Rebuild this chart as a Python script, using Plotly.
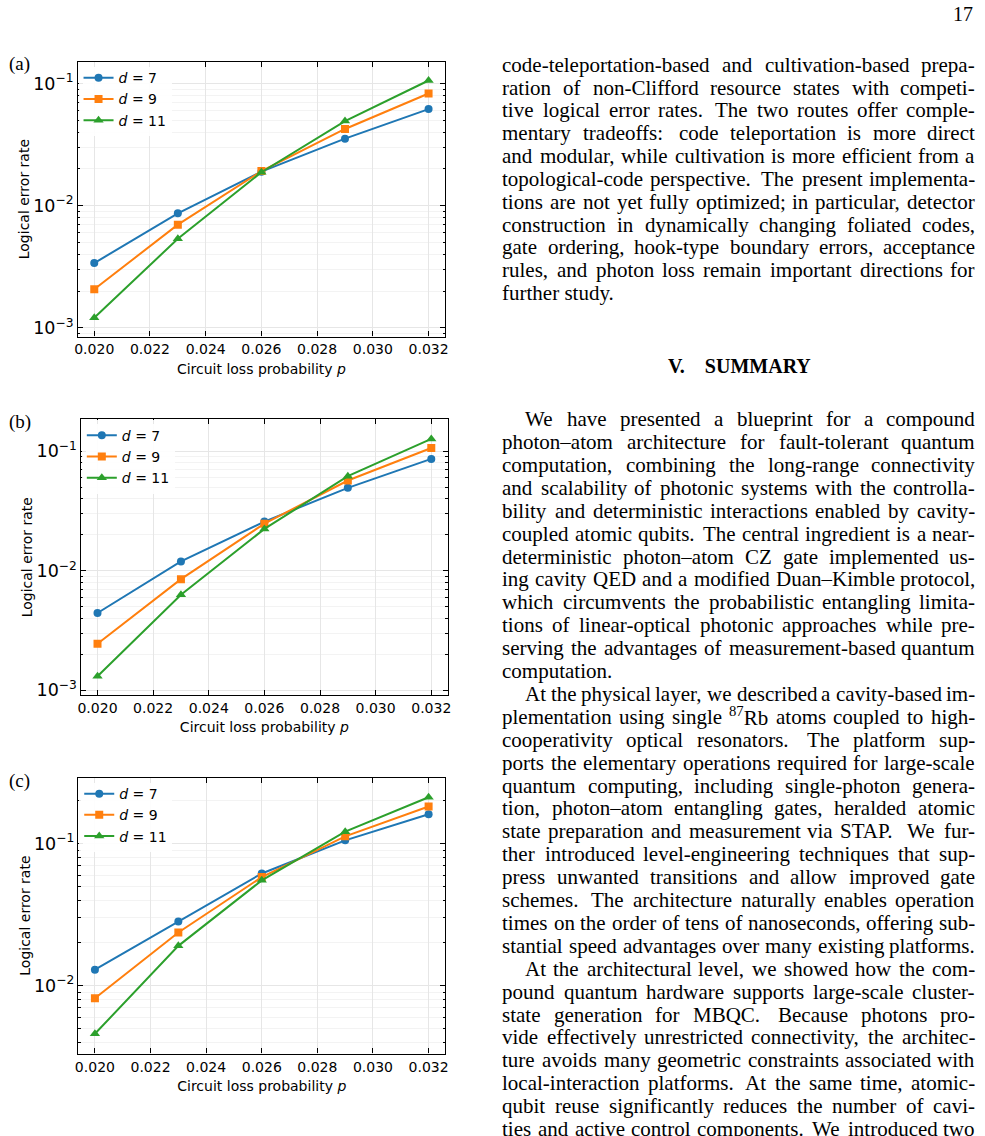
import re
import plotly.graph_objects as go

# ---------------- data ----------------
p = [0.020, 0.023, 0.026, 0.029, 0.032]
x_ticks = [0.020, 0.022, 0.024, 0.026, 0.028, 0.030, 0.032]
x_tick_labels = ["0.020", "0.022", "0.024", "0.026", "0.028", "0.030", "0.032"]
series_names = ["<i>d</i> = 7", "<i>d</i> = 9", "<i>d</i> = 11"]

a_d7 = [3.39e-3, 8.67e-3, 1.90e-2, 3.54e-2, 6.18e-2]
a_d9 = [2.07e-3, 7.00e-3, 1.92e-2, 4.25e-2, 8.29e-2]
a_d11 = [1.21e-3, 5.36e-3, 1.88e-2, 4.93e-2, 1.06e-1]

b_d7 = [4.43e-3, 1.196e-2, 2.58e-2, 4.94e-2, 8.63e-2]
b_d9 = [2.45e-3, 8.50e-3, 2.48e-2, 5.69e-2, 1.066e-1]
b_d11 = [1.31e-3, 6.30e-3, 2.24e-2, 6.19e-2, 1.27e-1]

c_d7 = [1.294e-2, 2.825e-2, 6.16e-2, 1.054e-1, 1.61e-1]
c_d9 = [8.15e-3, 2.366e-2, 5.81e-2, 1.125e-1, 1.825e-1]
c_d11 = [4.58e-3, 1.905e-2, 5.51e-2, 1.213e-1, 2.12e-1]

panel_labels = ["(a)", "(b)", "(c)"]

# ---------------- page text ----------------
para_top = [
    "code-teleportation-based and cultivation-based prepa-",
    "ration of non-Clifford resource states with competi-",
    "tive logical error rates. The two routes offer comple-",
    "mentary tradeoffs: code teleportation is more direct",
    "and modular, while cultivation is more efficient from a",
    "topological-code perspective. The present implementa-",
    "tions are not yet fully optimized; in particular, detector",
    "construction in dynamically changing foliated codes,",
    "gate ordering, hook-type boundary errors, acceptance",
    "rules, and photon loss remain important directions for",
    "further study.",
]
para_top_last = {10}

section_title = "<b>V.\u2003SUMMARY</b>"
page_number = "17"

summary_lines = [
    "We have presented a blueprint for a compound",
    "photon–atom architecture for fault-tolerant quantum",
    "computation, combining the long-range connectivity",
    "and scalability of photonic systems with the controlla-",
    "bility and deterministic interactions enabled by cavity-",
    "coupled atomic qubits. The central ingredient is a near-",
    "deterministic photon–atom CZ gate implemented us-",
    "ing cavity QED and a modified Duan–Kimble protocol,",
    "which circumvents the probabilistic entangling limita-",
    "tions of linear-optical photonic approaches while pre-",
    "serving the advantages of measurement-based quantum",
    "computation.",
    "At the physical layer, we described a cavity-based im-",
    "plementation using single <sup>87</sup>Rb atoms coupled to high-",
    "cooperativity optical resonators. The platform sup-",
    "ports the elementary operations required for large-scale",
    "quantum computing, including single-photon genera-",
    "tion, photon–atom entangling gates, heralded atomic",
    "state preparation and measurement via STAP. We fur-",
    "ther introduced level-engineering techniques that sup-",
    "press unwanted transitions and allow improved gate",
    "schemes. The architecture naturally enables operation",
    "times on the order of tens of nanoseconds, offering sub-",
    "stantial speed advantages over many existing platforms.",
    "At the architectural level, we showed how the com-",
    "pound quantum hardware supports large-scale cluster-",
    "state generation for MBQC. Because photons pro-",
    "vide effectively unrestricted connectivity, the architec-",
    "ture avoids many geometric constraints associated with",
    "local-interaction platforms. At the same time, atomic-",
    "qubit reuse significantly reduces the number of cavi-",
    "ties and active control components. We introduced two",
]
summary_indent = {0, 12, 24}
summary_last = {11}

# ---------------- layout helpers ----------------
W, H = 985, 1136


def fx(x):
    return x / W


def fy(y):
    return 1 - y / H


COLORS = ["#1f77b4", "#ff7f0e", "#2ca02c"]
SYMBOLS = ["circle", "square", "triangle-up"]
MSIZE = [8, 8, 9]
SANS = "DejaVu Sans"
SERIF = "Liberation Serif"

panels = [
    dict(data=[a_d7, a_d9, a_d11], box=(75, 445, 62, 338), yr=(-3.071, -0.821), lab_y=64),
    dict(data=[b_d7, b_d9, b_d11], box=(78.3, 447.7, 421, 698.3), yr=(-3.042, -0.731), lab_y=424),
    dict(data=[c_d7, c_d9, c_d11], box=(75.7, 445, 781, 1058.3), yr=(-2.479, -0.535), lab_y=784),
]

fig = go.Figure()
layout = dict(
    width=W, height=H, margin=dict(l=0, r=0, t=0, b=0),
    paper_bgcolor="white", plot_bgcolor="white",
    font=dict(family=SANS, size=14, color="black"),
)
annotations = []

for i, pan in enumerate(panels):
    sfx = "" if i == 0 else str(i + 1)
    leg = "legend" + sfx
    for j, vals in enumerate(pan["data"]):
        fig.add_trace(go.Scatter(
            x=p, y=vals, mode="lines+markers", name=series_names[j],
            line=dict(color=COLORS[j], width=2),
            marker=dict(symbol=SYMBOLS[j], size=MSIZE[j], color=COLORS[j]),
            xaxis="x" + sfx, yaxis="y" + sfx, legend=leg,
        ))
    l, r, t, b = pan["box"]
    layout["xaxis" + sfx] = dict(
        domain=[fx(l), fx(r)], anchor="y" + sfx, range=[0.0194, 0.0326],
        tickvals=x_ticks, ticktext=x_tick_labels,
        ticks="inside", ticklen=5, tickwidth=1, tickcolor="black",
        showline=True, linecolor="black", linewidth=1.3, mirror="ticks",
        showgrid=True, gridcolor="#e6e6e6", gridwidth=1, zeroline=False,
        tickfont=dict(family=SANS, size=14, color="black"),
        title=dict(text="Circuit loss probability <i>p</i>",
                   font=dict(family=SANS, size=14, color="black"), standoff=7),
    )
    layout["yaxis" + sfx] = dict(
        domain=[fy(b), fy(t)], anchor="x" + sfx, type="log", range=list(pan["yr"]),
        dtick=1, exponentformat="power", showexponent="all",
        ticks="inside", ticklen=5, tickwidth=1, tickcolor="black",
        showline=True, linecolor="black", linewidth=1.3, mirror="ticks",
        showgrid=True, gridcolor="#e6e6e6", gridwidth=1, zeroline=False,
        minor=dict(dtick="D1", ticks="inside", ticklen=2.5, tickcolor="black",
                   showgrid=True, gridcolor="#f3f3f3", gridwidth=1),
        tickfont=dict(family=SANS, size=14, color="black"),
        title=dict(text="Logical error rate",
                   font=dict(family=SANS, size=14, color="black"), standoff=0),
    )
    layout[leg] = dict(
        x=fx(l + 1), y=fy(t + 0.5), xanchor="left", yanchor="top",
        bgcolor="rgba(255,255,255,0.9)", borderwidth=0,
        font=dict(family=SANS, size=14, color="black"),
        tracegroupgap=0, itemwidth=30,
    )
    annotations.append(dict(
        text=panel_labels[i], x=fx(17), y=fy(pan["lab_y"]), xref="paper", yref="paper",
        xanchor="center", yanchor="middle", showarrow=False,
        font=dict(family=SERIF, size=19, color="black"),
    ))

# ---------------- justified text column ----------------
TIMES = {
    " ": 250, "!": 333, "(": 333, ")": 333, ",": 250, "-": 333, ".": 250, ":": 278, ";": 278,
    "0": 500, "1": 500, "2": 500, "3": 500, "4": 500, "5": 500, "6": 500, "7": 500, "8": 500, "9": 500,
    "A": 722, "B": 667, "C": 667, "D": 722, "E": 611, "F": 556, "G": 722, "H": 722, "I": 333,
    "J": 389, "K": 722, "L": 611, "M": 889, "N": 722, "O": 722, "P": 556, "Q": 722, "R": 667,
    "S": 556, "T": 611, "U": 722, "V": 722, "W": 944, "X": 722, "Y": 722, "Z": 611,
    "a": 444, "b": 500, "c": 444, "d": 500, "e": 444, "f": 333, "g": 500, "h": 500, "i": 278,
    "j": 278, "k": 500, "l": 278, "m": 778, "n": 500, "o": 500, "p": 500, "q": 500, "r": 333,
    "s": 389, "t": 278, "u": 500, "v": 500, "w": 722, "x": 500, "y": 500, "z": 444, "–": 500,
}
FS = 21
COL_L, COL_IND, COL_R = 502.5, 525, 978


def word_width(word, size=FS):
    total = 0.0
    for part in re.split(r"(<sup>.*?</sup>)", word):
        if part.startswith("<sup>"):
            inner, sc = part[5:-6], 0.7
        else:
            inner, sc = part, 1.0
        for ch in inner:
            total += TIMES.get(ch, 500) * sc
    return total / 1000.0 * size


def word_ann(text, x, y, anchor="left"):
    return dict(text=text, x=fx(x), y=fy(y), xref="paper", yref="paper",
                xanchor=anchor, yanchor="middle", showarrow=False,
                borderpad=0, borderwidth=0,
                font=dict(family=SERIF, size=FS, color="black"))


def set_line(line, y, indent, justify):
    x0 = COL_IND if indent else COL_L
    if not justify:
        annotations.append(word_ann(line, x0, y))
        return
    words = line.split(" ")
    widths = [word_width(w) for w in words]
    weights = [1.4 if w[-1] in ".:" else 1.0 for w in words[:-1]]
    gap = (COL_R - x0 - sum(widths)) / sum(weights)
    x = x0
    for k, w in enumerate(words):
        if k == len(words) - 1:
            annotations.append(word_ann(w, COL_R, y, "right"))
        else:
            annotations.append(word_ann(w, x, y))
            x += widths[k] + gap * weights[k]


for k, line in enumerate(para_top):
    set_line(line, 65 + k * 22.93, False, k not in para_top_last)

for k, line in enumerate(summary_lines):
    set_line(line, 421 + k * 23.0, k in summary_indent, k not in summary_last)

annotations.append(dict(
    text=section_title, x=fx(741), y=fy(368), xref="paper", yref="paper",
    xanchor="center", yanchor="middle", showarrow=False,
    font=dict(family=SERIF, size=20, color="black"),
))
annotations.append(dict(
    text=page_number, x=fx(978), y=fy(14), xref="paper", yref="paper",
    xanchor="right", yanchor="middle", showarrow=False,
    font=dict(family=SERIF, size=20, color="black"),
))

layout["annotations"] = annotations
fig.update_layout(**layout)

page_css = (
    "document.documentElement.style.margin='0';"
    "document.documentElement.style.overflow='hidden';"
    "document.body.style.margin='0';"
    "document.body.style.overflow='hidden';"
)
fig.write_html("out.html", post_script=page_css, config={"displayModeBar": False})
